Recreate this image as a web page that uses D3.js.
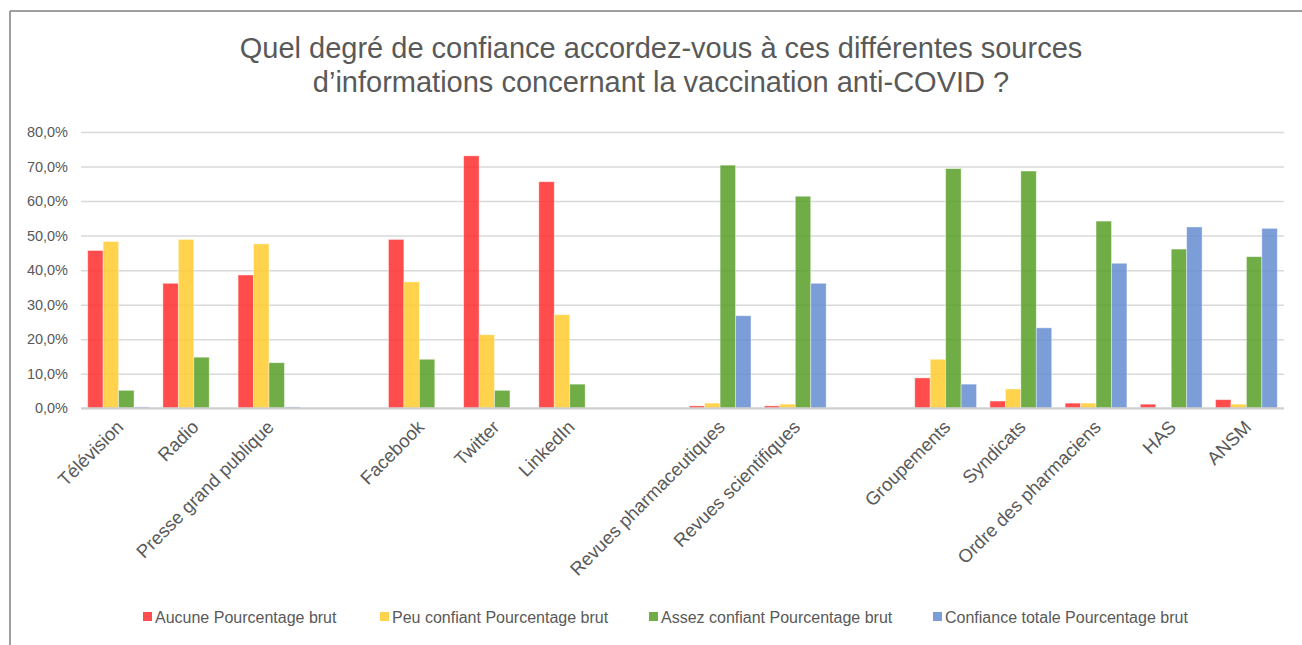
<!DOCTYPE html>
<html>
<head>
<meta charset="utf-8">
<script src="https://cdn.jsdelivr.net/npm/d3@7"></script>
<style>
  body { margin: 0; background: #fff; }
  svg  { font-family: "Liberation Sans", Arial, sans-serif; }
</style>
</head>
<body>
<svg></svg>
<script>
// slots, "" = empty gap between groups
let categories = ['Télévision', 'Radio', 'Presse grand publique', '',
                  'Facebook', 'Twitter', 'LinkedIn', '',
                  'Revues pharmaceutiques', 'Revues scientifiques', '',
                  'Groupements', 'Syndicats', 'Ordre des pharmaciens', 'HAS', 'ANSM'];

let seriesNames = ['Aucune Pourcentage brut', 'Peu confiant Pourcentage brut',
                   'Assez confiant Pourcentage brut', 'Confiance totale Pourcentage brut'];

let aucune    = [45.7, 36.2, 38.6, null, 48.9, 73.1, 65.6, null, 0.7, 0.7, null, 8.8, 2.1, 1.5, 1.2, 2.5];
let peu       = [48.3, 48.9, 47.6, null, 36.6, 21.3, 27.1, null, 1.5, 1.2, null, 14.2, 5.6, 1.5, 0, 1.2];
let assez     = [5.2, 14.8, 13.2, null, 14.2, 5.2, 7.0, null, 70.4, 61.4, null, 69.4, 68.7, 54.2, 46.1, 43.9];
let totale    = [0.4, 0, 0.4, null, 0, 0, 0, null, 26.8, 36.2, null, 7.0, 23.3, 42.0, 52.5, 52.1];

let yTicks = [0, 10, 20, 30, 40, 50, 60, 70, 80];

let colors = ['rgb(255,46,46)', 'rgb(255,203,46)', 'rgb(87,159,39)', 'rgb(101,141,209)'];

let width   = 1302,
    height  = 645,
    plotL   = 81,
    plotR   = 1284,
    plotT   = 132,
    plotB   = 408.3;

let allSeries = [aucune, peu, assez, totale];

let svg = d3.select('svg')
            .attr('width', width)
            .attr('height', height);

// frame
svg.append('line')
    .attr('x1', 10).attr('x2', 10).attr('y1', 11).attr('y2', height)
    .attr('stroke', '#7f7f7f').attr('stroke-width', 1.5);
svg.append('line')
    .attr('x1', 10).attr('x2', width).attr('y1', 11).attr('y2', 11)
    .attr('stroke', '#7f7f7f').attr('stroke-width', 1.5);

let xScale  = d3.scaleBand()
                .domain(d3.range(categories.length))
                .range([plotL, plotR])
                .padding(0);

let x1      = d3.scaleBand()
                .domain(d3.range(seriesNames.length))
                .range([6.7, xScale.bandwidth() - 6.7])
                .padding(0);

let yScale  = d3.scaleLinear()
                .domain([0, 80])
                .range([plotB, plotT]);

let yAxis   = d3.axisLeft(yScale)
                .tickValues(yTicks)
                .tickSize(plotL - plotR)
                .tickSizeOuter(0)
                .tickFormat(d => d.toFixed(1).replace('.', ',') + '%');

// grid + labels
let gy = svg.append('g')
    .attr('transform', `translate(${plotL}, 0)`)
    .call(yAxis);
gy.select('.domain').remove();
gy.selectAll('.tick line')
    .attr('stroke', '#d9d9d9')
    .attr('stroke-width', 1.5);
gy.selectAll('.tick text')
    .attr('x', -13)
    .attr('fill', '#595959')
    .attr('font-size', 14.5);

// bars
allSeries.forEach((vals, s) => {
    svg.append('g')
        .selectAll('rect')
        .data(vals.map((v, i) => ({i: i, v: v})).filter(d => d.v !== null && d.v > 0))
        .enter()
        .append('rect')
            .attr('x',      d => xScale(d.i) + x1(s))
            .attr('y',      d => yScale(d.v))
            .attr('width',  x1.bandwidth())
            .attr('height', d => plotB - yScale(d.v))
            .attr('fill', colors[s])
            .attr('fill-opacity', 0.85)
            .attr('stroke', '#fff')
            .attr('stroke-opacity', 0.5)
            .attr('stroke-width', 0.8);
});

// baseline
svg.append('line')
    .attr('x1', plotL).attr('x2', plotR)
    .attr('y1', plotB).attr('y2', plotB)
    .attr('stroke', '#d0d0d0').attr('stroke-width', 2);

// category labels
svg.append('g')
    .selectAll('text')
    .data(categories.map((c, i) => ({c: c, i: i})).filter(d => d.c !== ''))
    .enter()
    .append('text')
        .attr('transform', d => `translate(${xScale(d.i) + xScale.bandwidth() / 2 + 6}, ${plotB + 20}) rotate(-45)`)
        .attr('text-anchor', 'end')
        .attr('font-size', 18.5)
        .attr('fill', '#595959')
        .text(d => d.c);

// title
svg.append('text')
    .attr('x', 661)
    .attr('y', 58)
    .attr('text-anchor', 'middle')
    .attr('font-size', 29)
    .attr('fill', '#595959')
    .text('Quel degré de confiance accordez-vous à ces différentes sources');
svg.append('text')
    .attr('x', 661)
    .attr('y', 92)
    .attr('text-anchor', 'middle')
    .attr('font-size', 29)
    .attr('fill', '#595959')
    .text('d’informations concernant la vaccination anti-COVID ?');

// legend
let legendX = [143, 380, 649, 933];
let legend = svg.append('g')
    .selectAll('g')
    .data(seriesNames)
    .enter()
    .append('g')
        .attr('transform', (d, i) => `translate(${legendX[i]}, 617)`);
legend.append('rect')
    .attr('x', 0).attr('y', -5)
    .attr('width', 9).attr('height', 9)
    .attr('fill', (d, i) => colors[i])
    .attr('fill-opacity', 0.85);
legend.append('text')
    .attr('x', 12)
    .attr('y', 5.5)
    .attr('font-size', 16)
    .attr('fill', '#595959')
    .text(d => d);
</script>
</body>
</html>
